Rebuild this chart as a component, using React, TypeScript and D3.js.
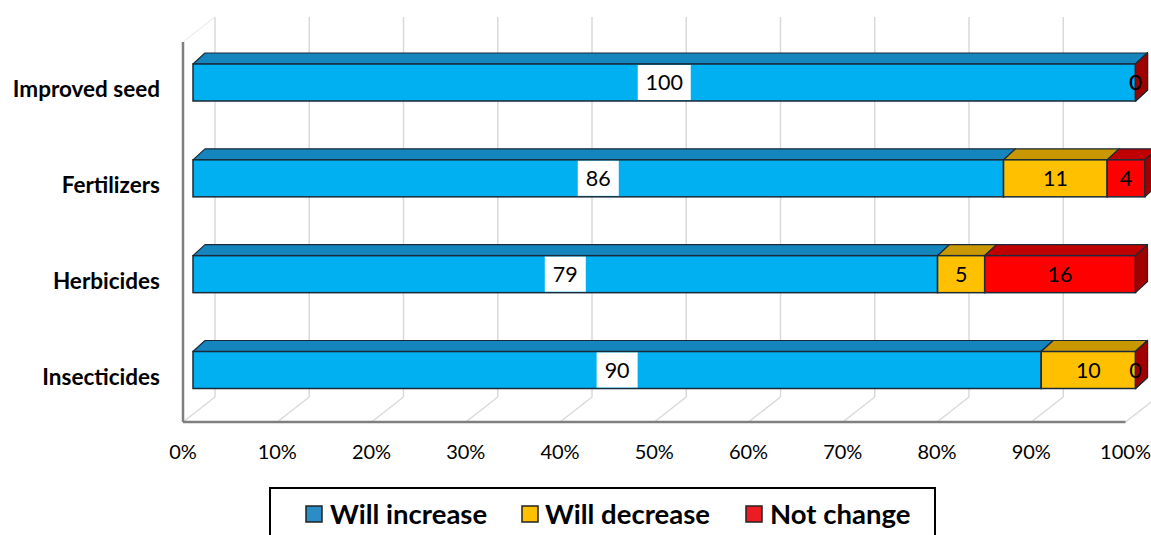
import React from "react";
import * as d3 from "d3";

const categories = ["Improved seed", "Fertilizers", "Herbicides", "Insecticides"];
const willIncrease = [100, 86, 79, 90];
const willDecrease = [0, 11, 5, 10];
const notChange = [0, 4, 16, 0];
const xTicks = [0, 10, 20, 30, 40, 50, 60, 70, 80, 90, 100];
const seriesNames = ["Will increase", "Will decrease", "Not change"];

const FONT = "Lato, 'Open Sans', sans-serif";

const series = [
  { name: seriesNames[0], values: willIncrease, front: "#00B0F0", top: "#1585BE", side: "#0A6E9C", legend: "#2A8DC5", boxed: true },
  { name: seriesNames[1], values: willDecrease, front: "#FFC000", top: "#C99700", side: "#B08400", legend: "#FFC000", boxed: false },
  { name: seriesNames[2], values: notChange, front: "#FF0000", top: "#C00000", side: "#A00000", legend: "#ED1C24", boxed: false },
];

export default function App() {
  const W = 1151, H = 535;
  const x = d3.scaleLinear().domain([0, 100]).range([183, 1125.5]);
  const y = d3.scalePoint<string>().domain(categories).range([82.5, 370]);
  const floorY = 422;
  const wallDx = 32, wallDy = -25;
  const barDx = 10;
  const depthDx = 12, depthDy = -11;
  const barH = 37;
  const outline = "#1B2A38";

  const grid = xTicks.map((t) => {
    const fx = x(t);
    return (
      <g key={"g" + t}>
        <line x1={fx + wallDx} x2={fx + wallDx} y1={17} y2={floorY + wallDy} stroke="#DADADA" strokeWidth={1.5} />
        <line x1={fx} x2={fx + wallDx} y1={floorY} y2={floorY + wallDy} stroke="#DADADA" strokeWidth={1.5} />
      </g>
    );
  });

  const bars = categories.map((c, i) => {
    const cy = y(c) as number;
    const y0 = cy - barH / 2;
    const y1 = cy + barH / 2;
    let cum = 0;
    const segs = series.map((s) => {
      const v = s.values[i];
      const xa = x(cum) + barDx;
      const xb = x(cum + v) + barDx;
      cum += v;
      const topPts = [[xa, y0], [xa + depthDx, y0 + depthDy], [xb + depthDx, y0 + depthDy], [xb, y0]];
      const sidePts = [[xb, y0], [xb + depthDx, y0 + depthDy], [xb + depthDx, y1 + depthDy], [xb, y1]];
      const p = (pts: number[][]) => pts.map((q) => q.join(",")).join(" ");
      return (
        <g key={s.name}>
          {v > 0 && <polygon points={p(topPts)} fill={s.top} stroke={outline} strokeWidth={1.2} strokeLinejoin="round" />}
          {v > 0 && <rect x={xa} y={y0} width={xb - xa} height={barH} fill={s.front} stroke={outline} strokeWidth={1.5} />}
          <polygon points={p(sidePts)} fill={s.side} stroke={outline} strokeWidth={1.2} strokeLinejoin="round" />
        </g>
      );
    });
    cum = 0;
    const labels = series.map((s) => {
      const v = s.values[i];
      const xa = x(cum) + barDx;
      const xb = x(cum + v) + barDx;
      cum += v;
      const mx = (xa + xb) / 2;
      const txt = String(v);
      const bw = txt.length * 12 + 17;
      return (
        <g key={"l" + s.name}>
          {s.boxed && <rect x={mx - bw / 2} y={y0 + 1} width={bw} height={barH - 2} fill="#FFFFFF" />}
          <text x={mx} y={cy} dy="0.35em" textAnchor="middle" fontFamily={FONT} fontSize={21.5} fill="#000">
            {txt}
          </text>
        </g>
      );
    });
    return (
      <g key={c}>
        {segs}
        {labels}
        <text x={160} y={cy + 7} dy="0.35em" textAnchor="end" fontFamily={FONT} fontWeight={700} fontSize={22.5} fill="#000">
          {c}
        </text>
      </g>
    );
  });

  const legendItems = [
    { s: series[0], sx: 306, tx: 330 },
    { s: series[1], sx: 522, tx: 545 },
    { s: series[2], sx: 746, tx: 770 },
  ];

  return (
    <svg width={W} height={H} style={{ position: "absolute", left: 0, top: 0, background: "#fff" }}>
      <rect x={0} y={0} width={W} height={H} fill="#fff" />
      {grid}
      <line x1={183} y1={42} x2={183 + wallDx} y2={17} stroke="#E6E6E6" strokeWidth={1} />
      <line x1={183} x2={183} y1={42} y2={floorY} stroke="#7F7F7F" strokeWidth={2.5} />
      <line x1={183} x2={x(100)} y1={floorY} y2={floorY} stroke="#7F7F7F" strokeWidth={2.5} />
      {bars}
      {xTicks.map((t) => (
        <text key={"t" + t} x={x(t)} y={452} dy="0.35em" textAnchor="middle" fontFamily={FONT} fontSize={20} fill="#000">
          {t + "%"}
        </text>
      ))}
      <rect x={270} y={488} width={665} height={60} fill="#fff" stroke="#000" strokeWidth={2} />
      {legendItems.map((it) => (
        <g key={"lg" + it.s.name}>
          <rect x={it.sx} y={506} width={16} height={16} fill={it.s.legend} stroke="#222" strokeWidth={1.5} />
          <text x={it.tx} y={514} dy="0.35em" fontFamily={FONT} fontWeight={700} fontSize={27.5} fill="#000">
            {it.s.name}
          </text>
        </g>
      ))}
    </svg>
  );
}
